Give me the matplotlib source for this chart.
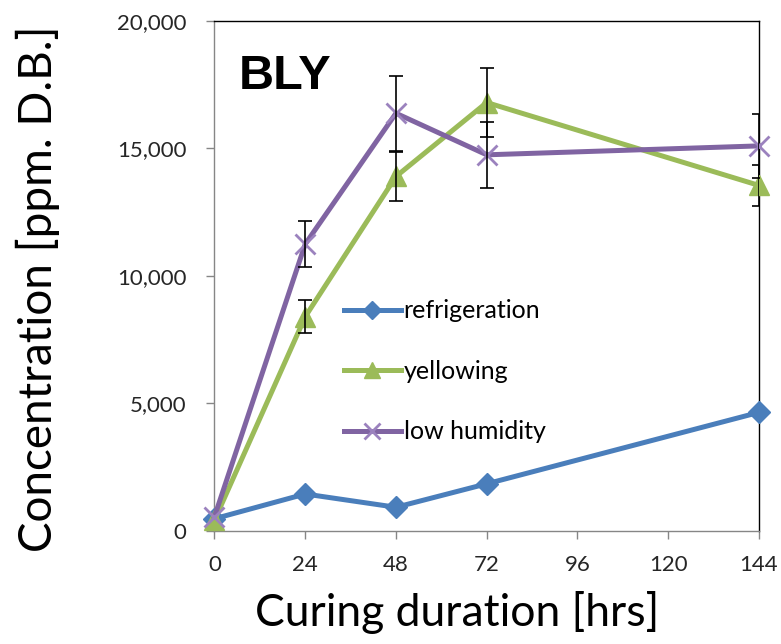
import matplotlib
matplotlib.use("Agg")
import matplotlib.pyplot as plt
from matplotlib.ticker import FuncFormatter

plt.rcParams['font.family'] = ['Lato', 'DejaVu Sans']

# data
hours = [0, 24, 48, 72, 144]
refrigeration = [480, 1450, 930, 1850, 4650]
yellowing = [420, 8400, 13900, 16800, 13550]
yellowing_err = [0, 650, 950, 1350, 800]
low_humidity = [560, 11250, 16380, 14750, 15100]
low_humidity_err = [0, 900, 1470, 1300, 1250]
x_ticks = [0, 24, 48, 72, 96, 120, 144]
y_ticks = [0, 5000, 10000, 15000, 20000]

fig = plt.figure(figsize=(7.81, 6.44), dpi=100)
ax = fig.add_axes([0.2746, 0.1755, 0.6972, 0.792])

ax.plot(hours, refrigeration, color='#4A7EBB', lw=3.6, marker='D', ms=11,
        label='refrigeration', clip_on=False, zorder=3)
ax.plot(hours, yellowing, color='#9BBB59', lw=3.6, marker='^', ms=15,
        label='yellowing', clip_on=False, zorder=3)
ax.plot(hours, low_humidity, color='#8064A2', lw=3.6, marker='x', ms=14,
        mew=2, mec='#9B82BE', label='low humidity', clip_on=False, zorder=3)

ax.errorbar(hours[1:], yellowing[1:], yerr=yellowing_err[1:], fmt='none',
            ecolor='black', elinewidth=1.2, capsize=5, capthick=1.2, zorder=4)
ax.errorbar(hours[1:], low_humidity[1:], yerr=low_humidity_err[1:], fmt='none',
            ecolor='black', elinewidth=1.2, capsize=5, capthick=1.2, zorder=4)

ax.set_xlim(0, 144)
ax.set_ylim(0, 20000)
ax.set_xticks(x_ticks)
ax.set_yticks(y_ticks)
ax.yaxis.set_major_formatter(FuncFormatter(lambda v, p: f'{int(v):,}'))
ax.tick_params(axis='both', direction='out', length=6, width=1,
               color='#868686', labelsize=16, labelcolor='#262626')
ax.tick_params(axis='x', pad=11)
ax.tick_params(axis='y', pad=14)

for side in ['left', 'bottom']:
    ax.spines[side].set_color('#868686')
    ax.spines[side].set_linewidth(1)
for side in ['top', 'right']:
    ax.spines[side].set_color('black')
    ax.spines[side].set_linewidth(1)

ax.set_xlabel('Curing duration [hrs]', fontsize=32)
ax.set_ylabel('Concentration [ppm. D.B.]', fontsize=33)
ax.xaxis.set_label_coords(0.445, -0.118)
ax.yaxis.set_label_coords(-0.284, 0.4745)

ax.text(0.045, 0.935, 'BLY', transform=ax.transAxes, fontsize=35,
        fontweight='bold', family=['Liberation Sans', 'DejaVu Sans'],
        va='top', ha='left')

ax.legend(loc='upper left', bbox_to_anchor=(0.196, 0.498), frameon=False,
          fontsize=18, handlelength=2.3, labelspacing=1.5, handletextpad=0.1,
          markerscale=0.8)

fig.savefig('out.png', dpi=100)
